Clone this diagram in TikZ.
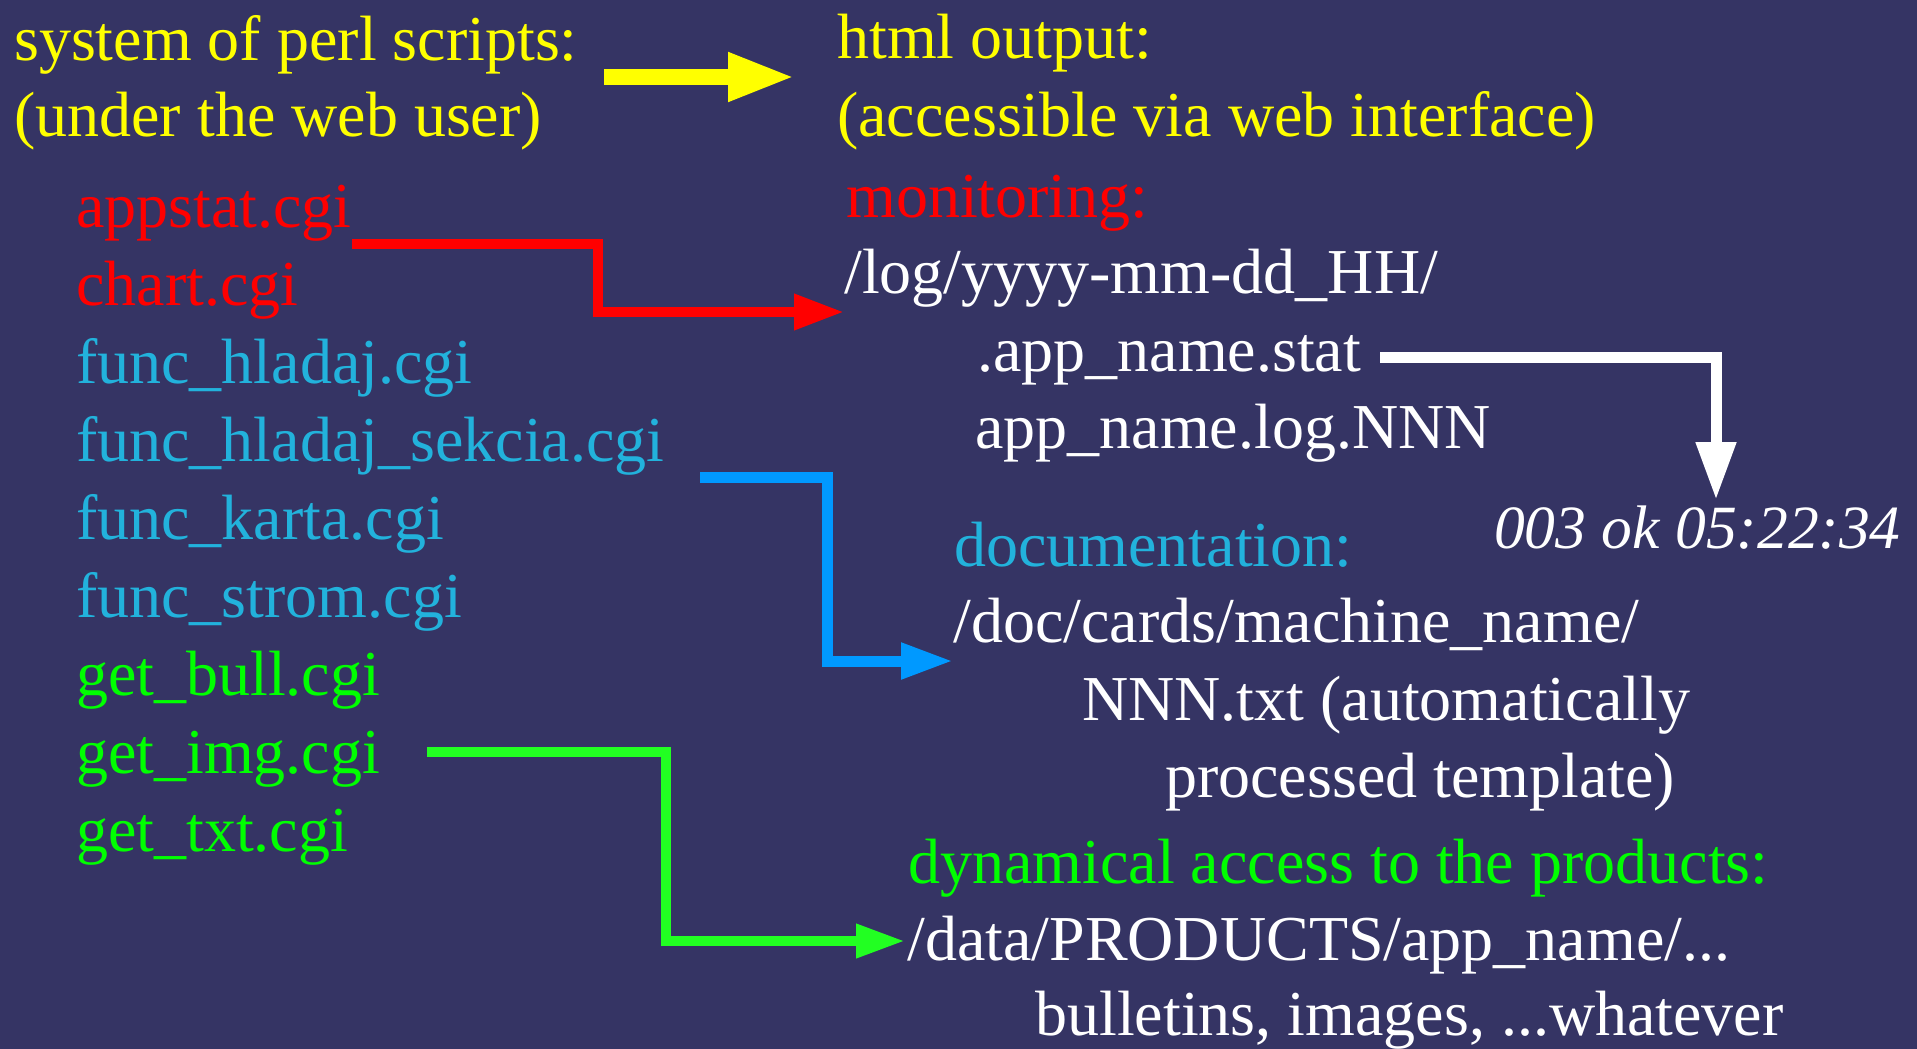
\documentclass[tikz,border=0pt]{standalone}
\usepackage{fontspec}
\setmainfont{Liberation Serif}
\usetikzlibrary{arrows.meta}
\definecolor{bg}{RGB}{53,52,100}
\definecolor{tyellow}{RGB}{255,255,0}
\definecolor{tred}{RGB}{255,0,0}
\definecolor{tcyan}{RGB}{34,178,220}
\definecolor{tgreen}{RGB}{0,255,0}
\definecolor{ablue}{RGB}{0,153,255}
\definecolor{agreen}{RGB}{34,255,34}
\begin{document}
\begin{tikzpicture}[x=1pt,y=-1pt,
  txt/.style={anchor=base west,inner sep=0pt,font=\fontsize{64}{64}\selectfont},
  conn/.style={line join=miter,line cap=butt}]
\fill[bg] (0,0) rectangle (1917,1049);
\useasboundingbox (0,0) rectangle (1917,1049);
% left column
\node[txt,tyellow] (sys) at (14,60) {system of perl scripts:};
\node[txt,tyellow] (under) at (14,136) {(under the web user)};
\node[txt,tred] (appstat) at (76,227) {appstat.cgi};
\node[txt,tred] (chart) at (76,305) {chart.cgi};
\node[txt,tcyan] (fh) at (76,383) {func\_hladaj.cgi};
\node[txt,tcyan] (fhs) at (76,461) {func\_hladaj\_sekcia.cgi};
\node[txt,tcyan] (fk) at (76,539) {func\_karta.cgi};
\node[txt,tcyan] (fs) at (76,617) {func\_strom.cgi};
\node[txt,tgreen] (gb) at (76,695) {get\_bull.cgi};
\node[txt,tgreen] (gi) at (76,773) {get\_img.cgi};
\node[txt,tgreen] (gt) at (76,851) {get\_txt.cgi};
% right column
\node[txt,tyellow] (html) at (837,59) {html output:};
\node[txt,tyellow] (acc) at (837,136) {(accessible via web interface)};
\node[txt,tred] (mon) at (846,217) {monitoring:};
\node[txt,white] (log) at (844,293) {/log/yyyy-mm-dd\_HH/};
\node[txt,white] (stat) at (977,371) {.app\_name.stat};
\node[txt,white] (lognnn) at (975,448) {app\_name.log.NNN};
\node[txt,white,font=\fontsize{61.5}{62}\selectfont\itshape] (ok) at (1494,548) {003 ok 05:22:34};
\node[txt,tcyan] (doc) at (954,566) {documentation:};
\node[txt,white] (cards) at (953,642) {/doc/cards/machine\_name/};
\node[txt,white] (nnn) at (1082,720) {NNN.txt (automatically};
\node[txt,white] (proc) at (1165,797) {processed template)};
\node[txt,tgreen] (dyn) at (908,883) {dynamical access to the products:};
\node[txt,white] (data) at (907,960) {/data/PRODUCTS/app\_name/...};
\node[txt,white] (bull) at (1035,1035) {bulletins, images, ...whatever};
% connector coordinates
\coordinate (y1) at (604,77);
\coordinate (y2) at (795,77);
\coordinate (r1) at (352,244);
\coordinate (r2) at (598,244);
\coordinate (r3) at (598,312);
\coordinate (r4) at (844,312);
\coordinate (w1) at (1380,357);
\coordinate (w2) at (1716,357);
\coordinate (w3) at (1716,500);
\coordinate (b1) at (700,477);
\coordinate (b2) at (827,477);
\coordinate (b3) at (827,661);
\coordinate (b4) at (953,661);
\coordinate (g1) at (427,752);
\coordinate (g2) at (666,752);
\coordinate (g3) at (666,941);
\coordinate (g4) at (905,941);
% connectors
\draw[conn,tyellow,line width=16pt,-{Triangle[length=67pt,width=45pt]}] (y1) -- (y2);
\draw[conn,tred,line width=10pt,-{Triangle[length=50pt,width=34pt]}] (r1) -- (r2) -- (r3) -- (r4);
\draw[conn,white,line width=11pt,-{Triangle[length=58pt,width=38pt]}] (w1) -- (w2) -- (w3);
\draw[conn,ablue,line width=11pt,-{Triangle[length=52pt,width=34pt]}] (b1) -- (b2) -- (b3) -- (b4);
\draw[conn,agreen,line width=10pt,-{Triangle[length=49pt,width=32pt]}] (g1) -- (g2) -- (g3) -- (g4);
\end{tikzpicture}
\end{document}
